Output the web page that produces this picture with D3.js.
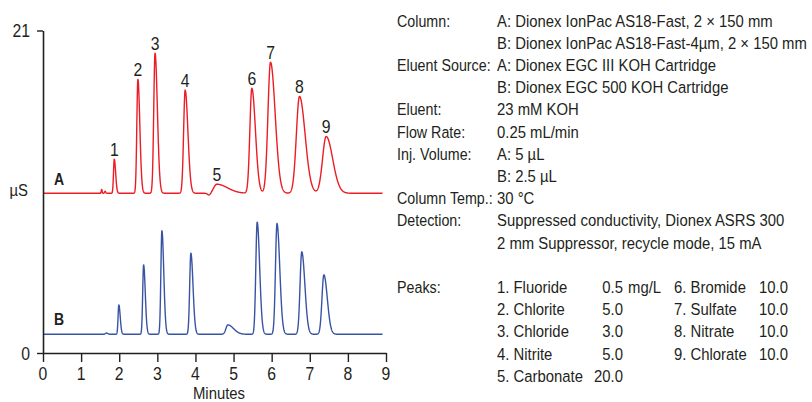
<!DOCTYPE html>
<html>
<head>
<meta charset="utf-8">
<script src="https://cdn.jsdelivr.net/npm/d3@7"></script>
<style>
  html, body { margin: 0; padding: 0; background: #fff; }
  svg { display: block; }
  text { font-family: "Liberation Sans", Arial, sans-serif; fill: #231f20; }
</style>
</head>
<body>
<svg id="chart" width="812" height="402"></svg>
<script>
// ---------------- data ----------------
const xTicks = [0, 1, 2, 3, 4, 5, 6, 7, 8, 9];
const yTicks = [0, 21];
const peakNumbers = ["1", "2", "3", "4", "5", "6", "7", "8", "9"];

// Trace A (Dionex IonPac AS18-Fast)
const baselineA = 10.40;
const timesA   = [1.87, 2.49, 2.94, 3.73, 4.56, 5.48, 5.97, 6.73, 7.43];
const heightsA = [2.22, 7.42, 9.12, 6.72, 0.59, 6.83, 8.53, 6.31, 3.70];
const widthsA  = [0.020, 0.028, 0.034, 0.040, 0.080, 0.052, 0.068, 0.082, 0.095];
const tailsA   = [1.8, 1.8, 1.8, 1.8, 3.5, 1.8, 1.8, 1.8, 1.8];
const minorTimesA   = [1.54, 1.63, 4.36];
const minorHeightsA = [0.25, 0.13, -0.13];
const minorWidthsA  = [0.012, 0.015, 0.040];

// Trace B (Dionex IonPac AS18-Fast-4µm)
const baselineB = 1.22;
const timesB   = [1.99, 2.64, 3.12, 3.88, 4.85, 5.62, 6.14, 6.79, 7.37];
const heightsB = [1.91, 4.52, 6.74, 5.28, 0.61, 7.30, 7.21, 5.37, 3.87];
const widthsB  = [0.020, 0.024, 0.027, 0.031, 0.050, 0.036, 0.040, 0.045, 0.050];
const tailsB   = [1.8, 1.8, 1.8, 1.8, 3.0, 1.8, 1.8, 1.8, 1.8];
const minorTimesB   = [1.67];
const minorHeightsB = [0.08];
const minorWidthsB  = [0.03];

const runEnd = 8.91;

// Conditions panel
const condLabels = [
  [0, "Column:"], [2, "Eluent Source:"], [4, "Eluent:"], [5, "Flow Rate:"],
  [6, "Inj. Volume:"], [8, "Column Temp.:"], [9, "Detection:"], [12, "Peaks:"]
];
const condValues = [
  [0, "A: Dionex IonPac AS18-Fast, 2 \u00d7 150 mm"],
  [1, "B: Dionex IonPac AS18-Fast-4\u00b5m, 2 \u00d7 150 mm"],
  [2, "A: Dionex EGC III KOH Cartridge"],
  [3, "B: Dionex EGC 500 KOH Cartridge"],
  [4, "23 mM KOH"],
  [5, "0.25 mL/min"],
  [6, "A: 5 \u00b5L"],
  [7, "B: 2.5 \u00b5L"],
  [8, "30 \u00b0C"],
  [9, "Suppressed conductivity, Dionex ASRS 300"],
  [10, "2 mm Suppressor, recycle mode, 15 mA"]
];
const peakNamesLeft  = ["1. Fluoride", "2. Chlorite", "3. Chloride", "4. Nitrite", "5. Carbonate"];
const peakConcLeft   = ["0.5", "5.0", "3.0", "5.0", "20.0"];
const peakNamesRight = ["6. Bromide", "7. Sulfate", "8. Nitrate", "9. Chlorate"];
const peakConcRight  = ["10.0", "10.0", "10.0", "10.0"];
const concUnit = "mg/L";

// ---------------- drawing ----------------
const svg = d3.select("#chart");
const SX = 0.875;            // horizontal condensing of the typeface
const SXL = 0.84;            // slightly tighter for the left label column
const ink = "#231f20";
const red = "#ec1c24";
const blue = "#3953a4";

const x = d3.scaleLinear().domain([0, 9]).range([43, 386]);
const y = d3.scaleLinear().domain([0, 21]).range([353, 30.5]);

function label(g, px, py, s, size, anchor, weight, sx) {
  return g.append("text")
    .attr("transform", `translate(${px},${py}) scale(${sx || SX},1)`)
    .attr("text-anchor", anchor || "start")
    .attr("font-size", size)
    .attr("font-weight", weight || "normal")
    .text(s);
}

function shape(dt, s, tail) {
  const sig = dt < 0 ? s : s * tail;
  return Math.exp(-dt * dt / (2 * sig * sig));
}
function trace(base, ts, hs, ws, tl, mts, mhs, mws) {
  const grid = d3.range(0, runEnd + 1e-9, 0.004);
  return grid.map(t => {
    let v = base;
    ts.forEach((t0, i) => { v += hs[i] * shape(t - t0, ws[i], tl[i]); });
    mts.forEach((t0, i) => { v += mhs[i] * shape(t - t0, mws[i], 1); });
    return [t, v];
  });
}

const line = d3.line().x(d => x(d[0])).y(d => y(d[1]));

const dataA = trace(baselineA, timesA, heightsA, widthsA, tailsA, minorTimesA, minorHeightsA, minorWidthsA);
const dataB = trace(baselineB, timesB, heightsB, widthsB, tailsB, minorTimesB, minorHeightsB, minorWidthsB);

svg.append("path").datum(dataB).attr("d", line)
  .attr("fill", "none").attr("stroke", blue).attr("stroke-width", 1.4).attr("stroke-linejoin", "round");
svg.append("path").datum(dataA).attr("d", line)
  .attr("fill", "none").attr("stroke", red).attr("stroke-width", 1.4).attr("stroke-linejoin", "round");

// Axes
const xAxis = d3.axisBottom(x).tickValues(xTicks).tickSizeInner(9).tickSizeOuter(0).tickFormat(d3.format("d"));
const gx = svg.append("g").attr("transform", `translate(0,${y(0)})`).call(xAxis);
gx.select(".domain").attr("stroke", ink).attr("stroke-width", 1.6);
gx.selectAll(".tick line").attr("stroke", ink).attr("stroke-width", 1.4);
gx.selectAll(".tick text").remove();
xTicks.forEach(v => label(svg, x(v), 380, String(v), 18, "middle"));

const yAxis = d3.axisLeft(y).tickValues(yTicks).tickSizeInner(6).tickSizeOuter(0);
const gy = svg.append("g").attr("transform", `translate(${x(0)},0)`).call(yAxis);
gy.select(".domain").attr("stroke", ink).attr("stroke-width", 1.6);
gy.selectAll(".tick line").attr("stroke", ink).attr("stroke-width", 1.4);
gy.selectAll(".tick text").remove();
yTicks.forEach(v => label(svg, 30, y(v) + 6.5, String(v), 18, "end"));

label(svg, 28, 196, "\u00b5S", 17, "end");
label(svg, 219, 399, "Minutes", 17, "middle");

// Trace tags
label(svg, 59, 185, "A", 16, "middle", "bold");
label(svg, 59, 325, "B", 16, "middle", "bold");

// Peak numbers above trace A
timesA.forEach((t, i) => {
  label(svg, x(t), y(baselineA + heightsA[i]) - 3.5, peakNumbers[i], 18, "middle");
});

// Conditions text
const rowY = i => 26.5 + 22.2 * i;
condLabels.forEach(([r, s]) => label(svg, 397, rowY(r), s, 17, "start", "normal", SXL));
condValues.forEach(([r, s]) => label(svg, 497, rowY(r), s, 17));
peakNamesLeft.forEach((s, i) => label(svg, 497, rowY(12 + i), s, 17));
peakConcLeft.forEach((s, i) => label(svg, 623, rowY(12 + i), s, 17, "end"));
label(svg, 628, rowY(12), concUnit, 17);
peakNamesRight.forEach((s, i) => label(svg, 674, rowY(12 + i), s, 17));
peakConcRight.forEach((s, i) => label(svg, 788, rowY(12 + i), s, 17, "end"));
</script>
</body>
</html>
